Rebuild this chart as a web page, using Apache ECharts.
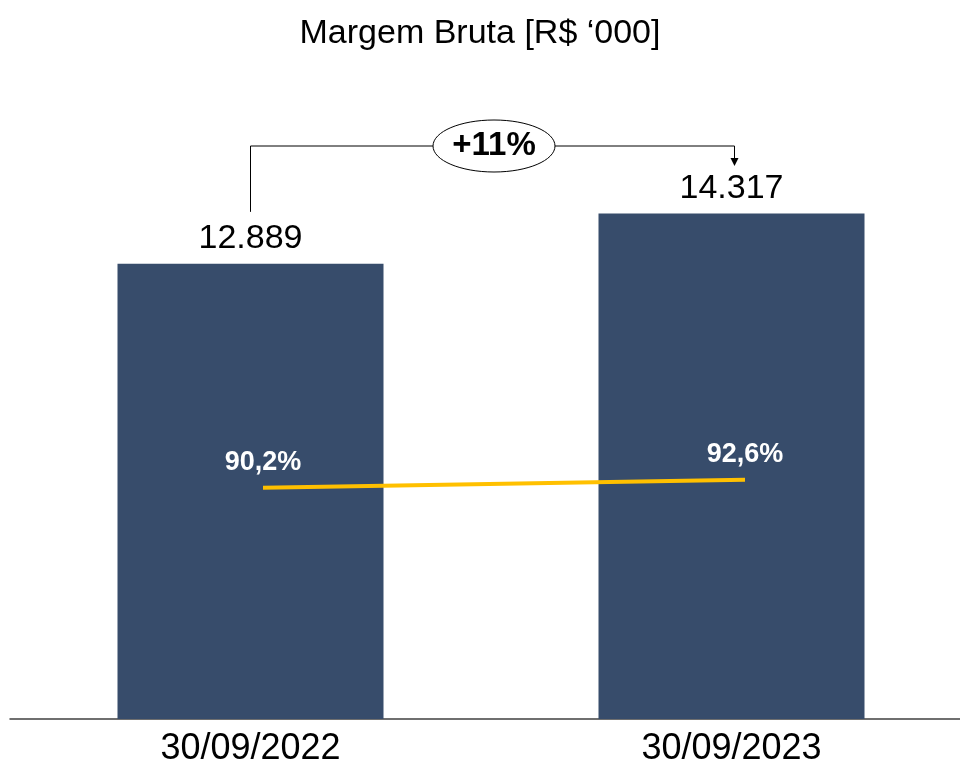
<!DOCTYPE html>
<html>
<head>
<meta charset="utf-8">
<script src="https://cdn.jsdelivr.net/npm/echarts@6/dist/echarts.min.js"></script>
<style>
  html, body { margin: 0; padding: 0; background: #fff; }
  #chart { width: 960px; height: 768px; }
</style>
</head>
<body>
<div id="chart"></div>
<script>
// dados do gráfico
const categories = ['30/09/2022', '30/09/2023']
const margemBruta = [12889, 14317]
const margemPct = [90.2, 92.6]

const FONT = '"Liberation Sans", Arial, sans-serif'
const BAR_COLOR = '#374C6B'
const LINE_COLOR = '#FFC000'

const fmtMil = v => v.toLocaleString('de-DE')
const fmtPct = v => v.toFixed(1).replace('.', ',') + '%'
const growth = Math.round((margemBruta[1] / margemBruta[0] - 1) * 100)

const chart = echarts.init(document.getElementById('chart'))

chart.setOption({
  animation: false,
  title: {
    text: 'Margem Bruta [R$ \u2018000]',
    left: 'center',
    top: 12,
    textStyle: { fontFamily: FONT, fontSize: 34, fontWeight: 'normal', color: '#000' }
  },
  grid: [
    { left: 10, right: -12, top: 154, bottom: 49, outerBoundsMode: 'none', containLabel: false },
    { left: 22, right: -26, top: 154, bottom: 49, outerBoundsMode: 'none', containLabel: false }
  ],
  xAxis: [
    {
      type: 'category',
      data: categories,
      gridIndex: 0,
      axisTick: { show: false },
      axisLine: { lineStyle: { color: '#404040', width: 1.5 } },
      axisLabel: { fontFamily: FONT, fontSize: 36, color: '#000', margin: 12 }
    },
    {
      type: 'category',
      data: categories,
      gridIndex: 1,
      show: false
    }
  ],
  yAxis: [
    { type: 'value', gridIndex: 0, min: 0, max: 16000, show: false, splitLine: { show: false } },
    { type: 'value', gridIndex: 1, min: 21, max: 190, show: false, splitLine: { show: false } }
  ],
  series: [
    {
      type: 'bar',
      data: margemBruta,
      xAxisIndex: 0,
      yAxisIndex: 0,
      barWidth: 266,
      itemStyle: { color: BAR_COLOR },
      label: {
        show: true,
        position: 'top',
        distance: 8,
        formatter: p => fmtMil(p.value),
        fontFamily: FONT,
        fontSize: 34,
        color: '#000'
      }
    },
    {
      type: 'line',
      data: margemPct,
      xAxisIndex: 1,
      yAxisIndex: 1,
      z: 10,
      symbol: 'circle',
      symbolSize: 0,
      itemStyle: { color: LINE_COLOR },
      lineStyle: { color: LINE_COLOR, width: 4 },
      label: {
        show: true,
        position: 'top',
        distance: 12,
        formatter: p => fmtPct(p.value),
        fontFamily: FONT,
        fontSize: 27,
        fontWeight: 'bold',
        color: '#fff'
      }
    }
  ]
})

// anotação de crescimento (+11%) ligando as duas barras
const p0 = chart.convertToPixel({ gridIndex: 0 }, [0, margemBruta[0]])
const p1 = chart.convertToPixel({ gridIndex: 0 }, [1, margemBruta[1]])
const yTop = 146
const xMid = 494
const rx = 61
const ry = 26
const x1 = p1[0] + 3

chart.setOption({
  graphic: [
    {
      type: 'polyline',
      shape: { points: [[p0[0], p0[1] - 52], [p0[0], yTop], [xMid - rx, yTop]] },
      style: { stroke: '#000', lineWidth: 1, fill: null }
    },
    {
      type: 'polyline',
      shape: { points: [[xMid + rx, yTop], [x1, yTop], [x1, yTop + 14]] },
      style: { stroke: '#000', lineWidth: 1, fill: null }
    },
    {
      type: 'polygon',
      shape: { points: [[x1 - 4, yTop + 12], [x1 + 4, yTop + 12], [x1, yTop + 20]] },
      style: { fill: '#000' }
    },
    {
      type: 'ellipse',
      shape: { cx: xMid, cy: yTop, rx: rx, ry: ry },
      style: { fill: '#fff', stroke: '#000', lineWidth: 1 }
    },
    {
      type: 'text',
      x: xMid,
      y: yTop,
      style: {
        text: '+' + growth + '%',
        fontFamily: FONT,
        fontSize: 33,
        fontWeight: 'bold',
        fill: '#000',
        align: 'center',
        verticalAlign: 'middle'
      }
    }
  ]
})
</script>
</body>
</html>
